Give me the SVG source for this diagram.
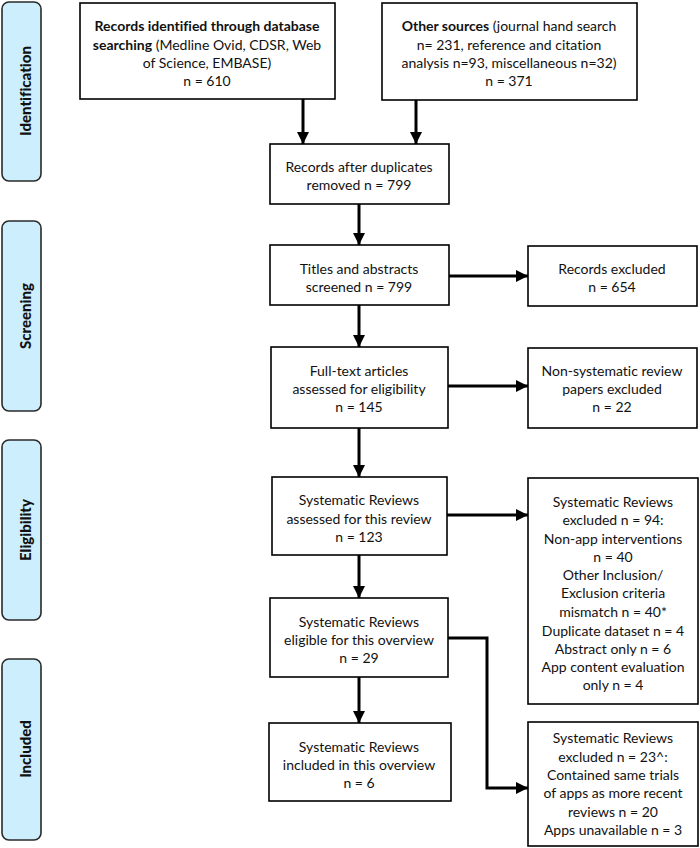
<svg xmlns="http://www.w3.org/2000/svg" width="700" height="848" viewBox="0 0 700 848">
<style>
.box{fill:#fff;stroke:#000;stroke-width:1.6}
.stage{fill:#cdeefc;stroke:#2a2a2a;stroke-width:1.6}
.t{font-family:Lato,"Open Sans","Liberation Sans",sans-serif;font-size:14px;fill:#111;text-anchor:middle;font-variant-ligatures:none}
.b{font-weight:bold}
.st{font-family:Lato,"Open Sans","Liberation Sans",sans-serif;font-size:15px;font-weight:900;fill:#111;text-anchor:middle;font-variant-ligatures:none}
.c{fill:none;stroke:#000;stroke-width:3;marker-end:url(#ah)}
</style>
<defs>
<marker id="ah" markerUnits="userSpaceOnUse" markerWidth="12" markerHeight="12" viewBox="0 0 12 12" refX="12" refY="6" orient="auto">
<path d="M0,0 L12,6 L0,12 Z" fill="#000"/>
</marker>
</defs>
<g id="stage-identification"><rect class="stage" x="2" y="2" width="39" height="179" rx="7"/><text class="st" transform="translate(31,91) rotate(-90)">Identification</text></g>
<g id="stage-screening"><rect class="stage" x="2" y="221" width="39" height="190" rx="7"/><text class="st" transform="translate(31,316) rotate(-90)">Screening</text></g>
<g id="stage-eligibility"><rect class="stage" x="2" y="440" width="39" height="180" rx="7"/><text class="st" transform="translate(31,530) rotate(-90)">Eligibility</text></g>
<g id="stage-included"><rect class="stage" x="2" y="659" width="39" height="181" rx="7"/><text class="st" transform="translate(31,749) rotate(-90)">Included</text></g>

<g id="n-db"><rect class="box" x="80" y="3" width="255" height="96"/>
<text class="t" x="207" y="31"><tspan class="b">Records identified through database</tspan></text>
<text class="t" x="207" y="50"><tspan class="b">searching</tspan> (Medline Ovid, CDSR, Web</text>
<text class="t" x="207" y="68">of Science, EMBASE)</text>
<text class="t" x="207" y="86">n = 610</text></g>

<g id="n-other"><rect class="box" x="382" y="3" width="255" height="97"/>
<text class="t" x="509" y="31"><tspan class="b">Other sources</tspan> (journal hand search</text>
<text class="t" x="509" y="50">n= 231, reference and citation</text>
<text class="t" x="509" y="68">analysis n=93, miscellaneous n=32)</text>
<text class="t" x="509" y="86">n = 371</text></g>

<g id="n-dup"><rect class="box" x="270" y="144" width="179" height="60"/>
<text class="t" x="359" y="172">Records after duplicates</text>
<text class="t" x="359" y="190">removed n = 799</text></g>

<g id="n-titles"><rect class="box" x="270" y="245" width="179" height="60"/>
<text class="t" x="359" y="274">Titles and abstracts</text>
<text class="t" x="359" y="292">screened n = 799</text></g>

<g id="n-rexcl"><rect class="box" x="528" y="246" width="169" height="60"/>
<text class="t" x="612" y="274">Records excluded</text>
<text class="t" x="612" y="292">n = 654</text></g>

<g id="n-full"><rect class="box" x="271" y="347" width="177" height="81"/>
<text class="t" x="359" y="376">Full-text articles</text>
<text class="t" x="359" y="394">assessed for eligibility</text>
<text class="t" x="359" y="412">n = 145</text></g>

<g id="n-nonsys"><rect class="box" x="528" y="348" width="169" height="80"/>
<text class="t" x="612" y="376">Non-systematic review</text>
<text class="t" x="612" y="394">papers excluded</text>
<text class="t" x="612" y="412">n = 22</text></g>

<g id="n-srassess"><rect class="box" x="272" y="477" width="175" height="78"/>
<text class="t" x="359" y="505">Systematic Reviews</text>
<text class="t" x="359" y="524">assessed for this review</text>
<text class="t" x="359" y="542">n = 123</text></g>

<g id="n-srexcl94"><rect class="box" x="528" y="478" width="170" height="226"/>
<text class="t" x="613" y="507">Systematic Reviews</text>
<text class="t" x="613" y="525">excluded n = 94:</text>
<text class="t" x="613" y="544">Non-app interventions</text>
<text class="t" x="613" y="562">n = 40</text>
<text class="t" x="613" y="580">Other Inclusion/</text>
<text class="t" x="613" y="598">Exclusion criteria</text>
<text class="t" x="613" y="617">mismatch n = 40*</text>
<text class="t" x="613" y="636">Duplicate dataset n = 4</text>
<text class="t" x="613" y="654">Abstract only n = 6</text>
<text class="t" x="613" y="672">App content evaluation</text>
<text class="t" x="613" y="690">only n = 4</text></g>

<g id="n-srelig"><rect class="box" x="270" y="598" width="178" height="79"/>
<text class="t" x="359" y="627">Systematic Reviews</text>
<text class="t" x="359" y="645">eligible for this overview</text>
<text class="t" x="359" y="663">n = 29</text></g>

<g id="n-srincl"><rect class="box" x="269" y="723" width="182" height="78"/>
<text class="t" x="359" y="752">Systematic Reviews</text>
<text class="t" x="359" y="770">included in this overview</text>
<text class="t" x="359" y="788">n = 6</text></g>

<g id="n-srexcl23"><rect class="box" x="528" y="722" width="170" height="124"/>
<text class="t" x="613" y="743">Systematic Reviews</text>
<text class="t" x="613" y="762">excluded n = 23^:</text>
<text class="t" x="613" y="780">Contained same trials</text>
<text class="t" x="613" y="798">of apps as more recent</text>
<text class="t" x="613" y="817">reviews n = 20</text>
<text class="t" x="613" y="835">Apps unavailable n = 3</text></g>

<g id="connectors">
<path class="c" d="M303,99 V144"/>
<path class="c" d="M416,100 V144"/>
<path class="c" d="M359,204 V245"/>
<path class="c" d="M449,276 H528"/>
<path class="c" d="M359,305 V347"/>
<path class="c" d="M448,386 H528"/>
<path class="c" d="M359,428 V477"/>
<path class="c" d="M447,515 H528"/>
<path class="c" d="M359,555 V598"/>
<path class="c" d="M359,677 V723"/>
<path class="c" d="M448,638 H487 V788 H528"/>
</g>
</svg>
